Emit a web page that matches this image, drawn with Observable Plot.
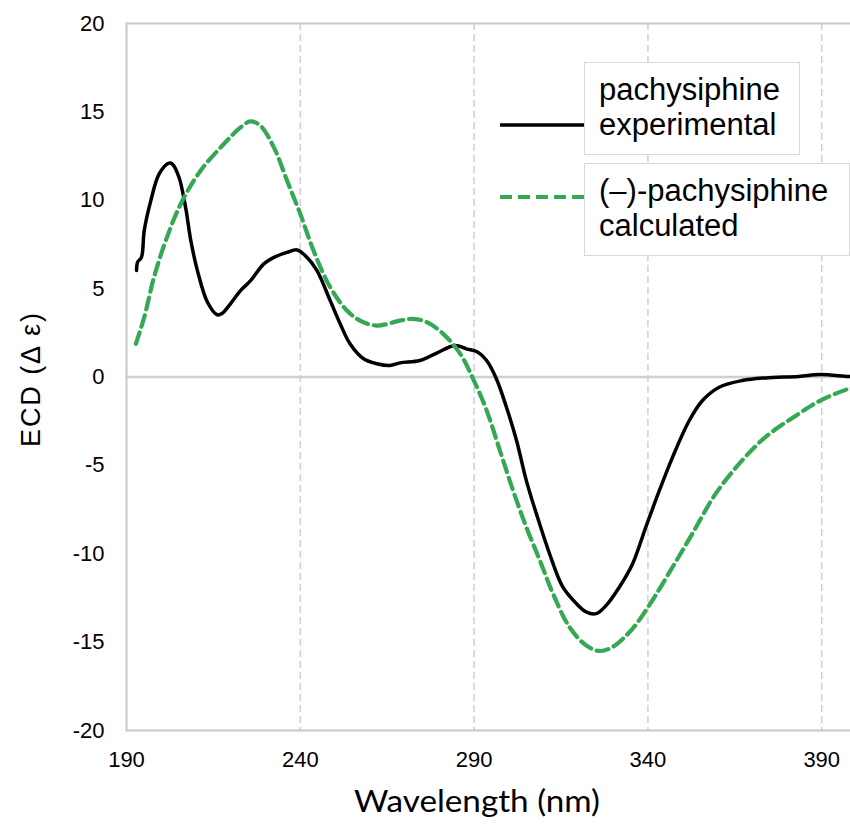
<!DOCTYPE html>
<html>
<head>
<meta charset="utf-8">
<script src="https://cdn.jsdelivr.net/npm/d3@7"></script>
<script src="https://cdn.jsdelivr.net/npm/@observablehq/plot@0.6"></script>
<style>
  html, body { margin: 0; padding: 0; overflow: hidden; background: #fff; width: 850px; height: 839px; }
  #chart svg { display: block; max-width: none !important; width: 856px !important; height: 839px !important; }
</style>
</head>
<body>
<div id="chart"></div>
<script>
// ---- Data ----
const expWavelength = [192.9,193.2,194.3,195.1,197.0,199.4,202.2,203.2,205.1,207.0,208.5,210.4,213.3,216.1,217.6,219.5,222.8,225.7,229.5,232.4,236.2,239.1,241.9,244.8,248.6,251.5,254.3,258.2,262.0,265.8,268.7,274.4,279.2,284.5,287.8,291.1,293.6,296.4,299.3,302.2,305.0,307.9,311.7,315.5,319.4,322.2,325.1,328.0,331.8,335.6,339.4,343.3,347.1,351.9,355.7,360.5,367.1,373.8,383.4,389.6,397.7,400];
const expECD = [6.02,6.5,6.77,8.28,9.98,11.49,12.1,12.05,11.3,9.6,7.72,6.02,4.23,3.52,3.61,4.04,4.89,5.45,6.4,6.77,7.05,7.19,6.77,6.02,4.32,3.0,1.88,1.03,0.75,0.65,0.8,0.93,1.35,1.78,1.59,1.4,0.93,-0.1,-1.71,-3.59,-5.85,-7.73,-10.0,-11.88,-12.82,-13.29,-13.39,-12.92,-11.88,-10.56,-8.49,-6.42,-4.53,-2.46,-1.33,-0.58,-0.2,-0.05,0.03,0.14,0.03,0.03];

const calcWavelength = [192.7,195.1,197.9,201.3,205.6,211.3,218.0,222.8,225.7,228.5,232.4,236.2,240.0,243.8,248.6,253.4,257.2,262.0,268.7,272.5,276.4,281.1,286.0,289.7,293.6,297.4,301.2,305.0,308.9,312.7,317.4,322.2,326.0,329.9,335.6,341.3,347.1,352.8,359.5,367.1,373.8,383.4,389.6,397.7,400];
const calcECD = [1.88,3.38,5.64,7.72,9.79,11.67,13.18,14.12,14.46,14.22,12.99,11.1,9.22,7.15,5.08,3.76,3.19,2.91,3.19,3.29,3.1,2.44,1.31,-0.1,-1.89,-4.15,-6.42,-8.49,-10.37,-12.26,-14.14,-15.18,-15.5,-15.27,-14.23,-12.63,-10.75,-8.86,-6.6,-4.72,-3.4,-2.08,-1.33,-0.67,-0.55];

const xTicks = [190, 240, 290, 340, 390];
const xGrid = [240, 290, 340, 390];
const yTicks = [-20, -15, -10, -5, 0, 5, 10, 15, 20];
const xTitle = "Wavelength (nm)";
const yTitle = "ECD (Δ ε)";
const legendLabels = [["pachysiphine", "experimental"], ["(–)-pachysiphine", "calculated"]];

// ---- Build tables ----
const expData = expWavelength.map((w, i) => ({w, v: expECD[i]}));
const calcData = calcWavelength.map((w, i) => ({w, v: calcECD[i]}));

const GREEN = "#34a853";
const FONT = "'Liberation Sans', Arial, Helvetica, sans-serif";

const chart = Plot.plot({
  width: 856,
  height: 839,
  marginLeft: 126,
  marginRight: 0,
  marginTop: 23,
  marginBottom: 109,
  style: {fontFamily: FONT, fontSize: "22px", color: "#000", background: "#fff", overflow: "visible"},
  x: {domain: [190, 400]},
  y: {domain: [-20, 20]},
  marks: [
    Plot.ruleX(xGrid, {stroke: "#cfcfcf", strokeWidth: 1.5, strokeDasharray: "7,4"}),
    Plot.ruleY([0], {stroke: "#d0d0d0", strokeWidth: 2.5}),
    Plot.frame({stroke: "#c8c8c8", strokeWidth: 2}),
    Plot.axisX(xTicks, {tickSize: 0, tickPadding: 21, fontSize: 22, tickFormat: d => String(d), label: null}),
    Plot.axisY(yTicks, {tickSize: 0, tickPadding: 22, fontSize: 22, tickFormat: d => String(d), label: null}),
    Plot.line(expData, {x: "w", y: "v", stroke: "#000", strokeWidth: 3.5, curve: "catmull-rom"}),
    Plot.line(calcData, {x: "w", y: "v", stroke: GREEN, strokeWidth: 4.2, strokeDasharray: "12,6", curve: "catmull-rom"})
  ]
});

document.getElementById("chart").appendChild(chart);

const svg = d3.select(chart);

// Axis titles
svg.append("text")
  .attr("x", 477).attr("y", 812)
  .attr("text-anchor", "middle")
  .attr("font-family", "Lato, 'Open Sans', sans-serif")
  .attr("font-size", 30)
  .attr("fill", "#000")
  .attr("textLength", 246)
  .attr("lengthAdjust", "spacingAndGlyphs")
  .text(xTitle);

svg.append("text")
  .attr("transform", "translate(31,380) rotate(-90)")
  .attr("dy", "0.35em")
  .attr("text-anchor", "middle")
  .attr("font-family", FONT)
  .attr("font-size", 27)
  .attr("fill", "#000")
  .attr("textLength", 134)
  .attr("lengthAdjust", "spacing")
  .text(yTitle);

// Legend
const lg = svg.append("g").attr("text-anchor", "start");
const boxes = [
  {x: 584.5, y: 62.5, w: 215, h: 92, lineY: 125, base: [100, 135]},
  {x: 584.5, y: 163.5, w: 265, h: 92, lineY: 197, base: [201, 236]}
];
const styles = [
  {stroke: "#000", width: 3.5, dash: null},
  {stroke: GREEN, width: 4.2, dash: "12,6"}
];
boxes.forEach((b, i) => {
  lg.append("rect")
    .attr("x", b.x).attr("y", b.y).attr("width", b.w).attr("height", b.h)
    .attr("fill", "#fff").attr("stroke", "#d9d9d9").attr("stroke-width", 1);
  const ln = lg.append("line")
    .attr("x1", 500).attr("x2", 584).attr("y1", b.lineY).attr("y2", b.lineY)
    .attr("stroke", styles[i].stroke).attr("stroke-width", styles[i].width);
  if (styles[i].dash) ln.attr("stroke-dasharray", styles[i].dash);
  legendLabels[i].forEach((t, j) => {
    lg.append("text")
      .attr("x", 599).attr("y", b.base[j])
      .attr("text-anchor", "start")
      .attr("font-family", FONT).attr("font-size", 31).attr("fill", "#000")
      .text(t);
  });
});
</script>
</body>
</html>
